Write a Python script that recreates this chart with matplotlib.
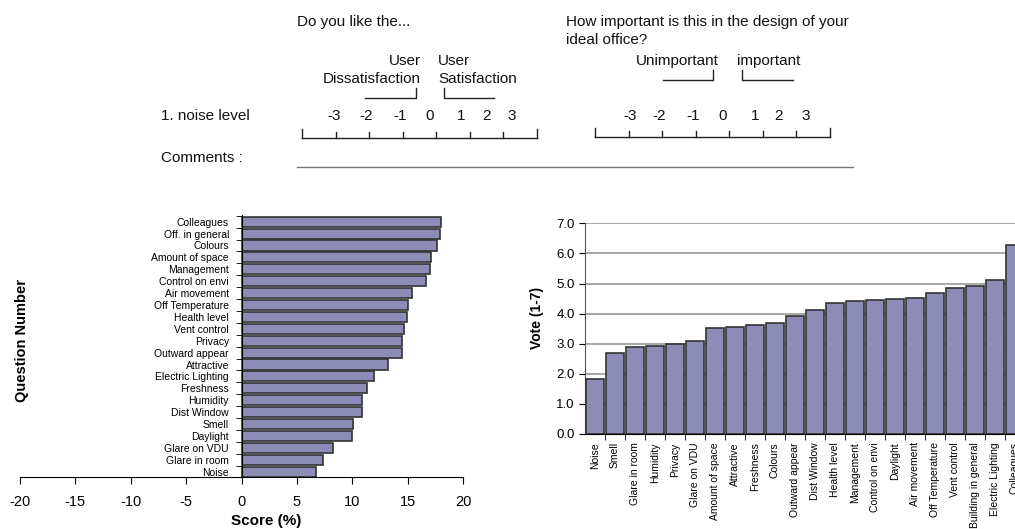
import numpy as np
import matplotlib
matplotlib.use('Agg')
import matplotlib.pyplot as plt

plt.rcParams['font.family'] = ['Liberation Sans', 'DejaVu Sans']
plt.rcParams['axes.unicode_minus'] = False

# ==========================
# Datos
# ==========================
# Panel izquierdo: Score (%) por aspecto (de abajo hacia arriba)
score_labels = ['Noise', 'Glare in room', 'Glare on VDU', 'Daylight', 'Smell',
                'Dist Window', 'Humidity', 'Freshness', 'Electric Lighting',
                'Attractive', 'Outward appear', 'Privacy', 'Vent control',
                'Health level', 'Off Temperature', 'Air movement',
                'Control on envi', 'Management', 'Amount of space', 'Colours',
                'Off. in general', 'Colleagues']
score_values = [6.7, 7.4, 8.3, 9.95, 10.1, 10.9, 10.9, 11.3, 12.0, 13.25,
                14.5, 14.5, 14.65, 14.95, 15.05, 15.35, 16.7, 17.0, 17.15,
                17.65, 17.9, 18.05]

# Panel derecho: Vote (1-7) por aspecto
vote_labels = ['Noise', 'Smell', 'Glare in room', 'Humidity', 'Privacy',
               'Glare on VDU', 'Amount of space', 'Attractive', 'Freshness',
               'Colours', 'Outward appear', 'Dist Window', 'Health level',
               'Management', 'Control on envi', 'Daylight', 'Air movement',
               'Off Temperature', 'Vent control', 'Building in general',
               'Electric Lighting', 'Colleagues']
vote_values = [1.82, 2.68, 2.89, 2.92, 2.99, 3.08, 3.51, 3.55, 3.61, 3.68,
               3.91, 4.11, 4.34, 4.41, 4.44, 4.47, 4.51, 4.67, 4.86, 4.91,
               5.11, 6.28]

# Escala del cuestionario
scale_values = [-3, -2, -1, 0, 1, 2, 3]

bar_color = '#8c8cb6'
edge_color = '#333333'

W, H = 1015, 529
fig = plt.figure(figsize=(W / 100, H / 100), dpi=100)

# ==========================
# Cuestionario (parte superior) en coordenadas de pixel
# ==========================
top = fig.add_axes([0, 0, 1, 1])
top.set_xlim(0, W)
top.set_ylim(H, 0)
top.axis('off')

txt = dict(fontsize=11, color='#111111')
top.text(297, 22, 'Do you like the...', va='center', ha='left', **txt)
top.text(566, 22, 'How important is this in the design of your', va='center', ha='left', **txt)
top.text(566, 40, 'ideal office?', va='center', ha='left', **txt)
top.text(161, 116, '1. noise level', va='center', ha='left', **txt)
top.text(161, 158, 'Comments :', va='center', ha='left', **txt)

top.text(421, 61, 'User', va='center', ha='right', **txt)
top.text(421, 79, 'Dissatisfaction', va='center', ha='right', **txt)
top.text(438, 61, 'User', va='center', ha='left', **txt)
top.text(438, 79, 'Satisfaction', va='center', ha='left', **txt)
top.text(719, 61, 'Unimportant', va='center', ha='right', **txt)
top.text(737, 61, 'important', va='center', ha='left', **txt)

lc = '#222222'
# corchetes
top.plot([365, 416, 416], [98, 98, 88], color=lc, lw=1)
top.plot([444, 444, 494], [88, 98, 98], color=lc, lw=1)
top.plot([663, 713, 713], [80, 80, 70], color=lc, lw=1)
top.plot([742, 742, 793], [70, 80, 80], color=lc, lw=1)


def dibujar_escala(x0, x1, y_linea, label_x, y_label):
    ticks = np.linspace(x0, x1, len(scale_values) + 1)
    top.plot([x0, x1], [y_linea, y_linea], color=lc, lw=1)
    for i, t in enumerate(ticks):
        alto = 9 if i in (0, len(ticks) - 1) else 6
        top.plot([t, t], [y_linea, y_linea - alto], color=lc, lw=1)
    for v, lx in zip(scale_values, label_x):
        top.text(lx, y_label, str(v), ha='center', va='center', **txt)


dibujar_escala(302, 537, 138, [334, 366, 400, 430, 461, 487, 512], 116)
dibujar_escala(595, 830, 137, [630, 659, 693, 723, 755, 779, 806], 116)

top.plot([297, 853], [167, 167], color='#777777', lw=1)

# ==========================
# Gráfico de barras horizontal (Score %)
# ==========================
ax1 = fig.add_axes([20 / W, 1 - 477 / H, 443 / W, 262 / H])
y = np.arange(len(score_labels))
ax1.barh(y, score_values, height=0.85, color=bar_color,
         edgecolor=edge_color, linewidth=1.2)
ax1.set_xlim(-20, 20)
ax1.set_ylim(-0.45, len(score_labels) - 0.44)
ax1.set_xticks([-20, -15, -10, -5, 0, 5, 10, 15, 20])
ax1.tick_params(axis='x', labelsize=10.5, direction='out', length=5, pad=8)
ax1.set_yticks(y)
ax1.set_yticklabels(score_labels)
ax1.tick_params(axis='y', which='major', length=0, pad=9, labelsize=7.5)
ax1.set_yticks(np.arange(len(score_labels)) + 0.5, minor=True)
ax1.tick_params(axis='y', which='minor', direction='out', length=4)
ax1.spines['left'].set_position(('data', 0))
ax1.spines['top'].set_visible(False)
ax1.spines['right'].set_visible(False)
ax1.set_xlabel('Score (%)', fontsize=11, fontweight='bold')
ax1.xaxis.set_label_coords(0.555, -0.14)
fig.text(22 / W, 1 - 340 / H, 'Question Number', rotation=90, fontsize=10.5,
         fontweight='bold', ha='center', va='center')

# ==========================
# Gráfico de barras vertical (Vote 1-7)
# ==========================
ax2 = fig.add_axes([585 / W, 1 - 434 / H, 440 / W, (434 - 223.3) / H])
x = np.arange(len(vote_labels))
ax2.bar(x, vote_values, width=0.92, color=bar_color,
        edgecolor=edge_color, linewidth=1.2, zorder=3)
ax2.set_xlim(-0.5, len(vote_labels) - 0.5)
ax2.set_ylim(0, 7)
ax2.set_yticks(np.arange(0, 8, 1))
ax2.set_yticklabels([f'{v:.1f}' for v in np.arange(0, 8, 1)], fontsize=9.5)
ax2.yaxis.grid(True, color='#999999', linewidth=1.2, zorder=0)
ax2.set_xticks(x)
ax2.set_xticklabels(vote_labels, rotation=90, fontsize=7.5)
ax2.tick_params(axis='x', which='major', length=0, pad=6)
ax2.set_xticks(np.arange(len(vote_labels)) + 0.5, minor=True)
ax2.tick_params(axis='x', which='minor', direction='out', length=4)
ax2.tick_params(axis='y', direction='out', length=4)
ax2.spines['top'].set_visible(False)
ax2.spines['right'].set_visible(False)
ax2.spines['left'].set_color('#555555')
fig.text(537 / W, 1 - 318 / H, 'Vote (1-7)', rotation=90, fontsize=10,
         fontweight='bold', ha='center', va='center')

fig.savefig('out.png', dpi=100)
